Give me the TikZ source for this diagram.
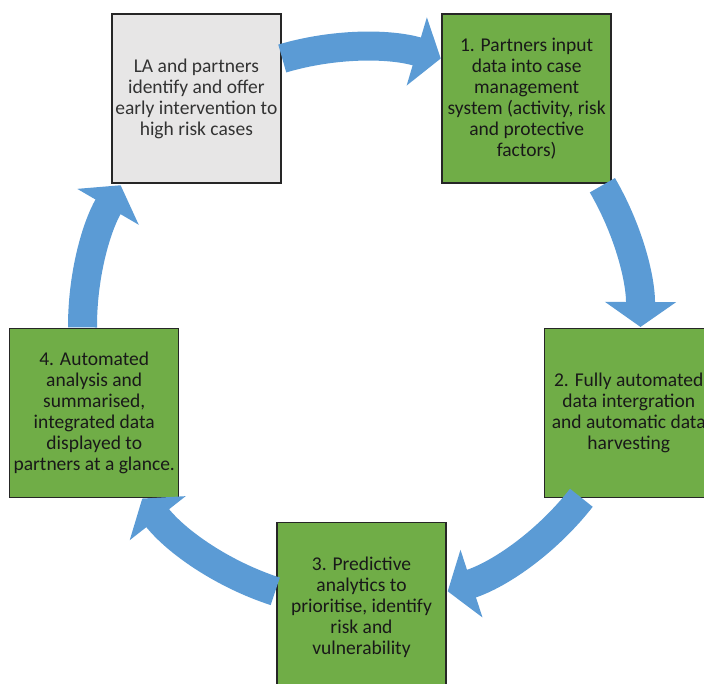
\documentclass[tikz,border=0pt]{standalone}
\usepackage{fontspec}
\setmainfont{Carlito}
\usepackage{tikz}
\usetikzlibrary{arrows.meta}
\definecolor{stepgreen}{HTML}{70AD47}
\definecolor{startgrey}{HTML}{E7E6E6}
\definecolor{flowblue}{HTML}{5B9BD5}
\definecolor{edgegrey}{HTML}{262626}
\tikzstyle{stepbox} = [rectangle, draw=edgegrey, line width=1.5pt, fill=stepgreen, text=black!90, align=center, minimum width=169pt, minimum height=169pt, inner sep=0pt, font=\fontsize{19.5}{21}\selectfont]
\tikzstyle{startbox} = [stepbox, fill=startgrey, text=black!80]
\tikzstyle{flow} = [draw=flowblue, line width=29pt, -{Triangle[length=25pt,width=70pt]}, looseness=0.87]

\begin{document}
\begin{tikzpicture}[x=1pt, y=1pt]
    \useasboundingbox (-361.5,-357) rectangle (342.5,326);
    \clip (-361.5,-357) rectangle (342.5,326);

    % the five steps round the cycle
    \node[startbox] (offer) at (126:281) {LA and partners\\identify and offer\\early intervention to\\high risk cases};
    \node[stepbox] (input) at (54:281) {1. Partners input\\data into case\\management\\system (activity, risk\\and protective\\factors)};
    \node[stepbox] (harvest) at (-18:281) {2. Fully automated\\data intergration\\and automatic data\\harvesting};
    \node[stepbox] (predict) at (-90:281) {3. Predictive\\analytics to\\prioritise, identify\\risk and\\vulnerability};
    \node[stepbox] (display) at (198:281) {4. Automated\\analysis and\\summarised,\\integrated data\\displayed to\\partners at a glance.};

    % arrow ends on the circle
    \coordinate (offer-out) at (106.5:279);
    \coordinate (input-in) at (73.5:279);
    \coordinate (input-out) at (30.3:279);
    \coordinate (harvest-in) at (-0.2:279);
    \coordinate (harvest-out) at (-38:279);
    \coordinate (predict-in) at (-72:279);
    \coordinate (predict-out) at (-108:279);
    \coordinate (display-in) at (-141.8:279);
    \coordinate (display-out) at (180.3:279);
    \coordinate (offer-in) at (149.7:279);

    \draw[flow] (offer-out) to[bend left=16.5] (input-in);
    \draw[flow] (input-out) to[bend left=15.25] (harvest-in);
    \draw[flow] (harvest-out) to[bend left=17] (predict-in);
    \draw[flow] (predict-out) to[bend left=16.9] (display-in);
    \draw[flow] (display-out) to[bend left=15.3] (offer-in);
\end{tikzpicture}
\end{document}
